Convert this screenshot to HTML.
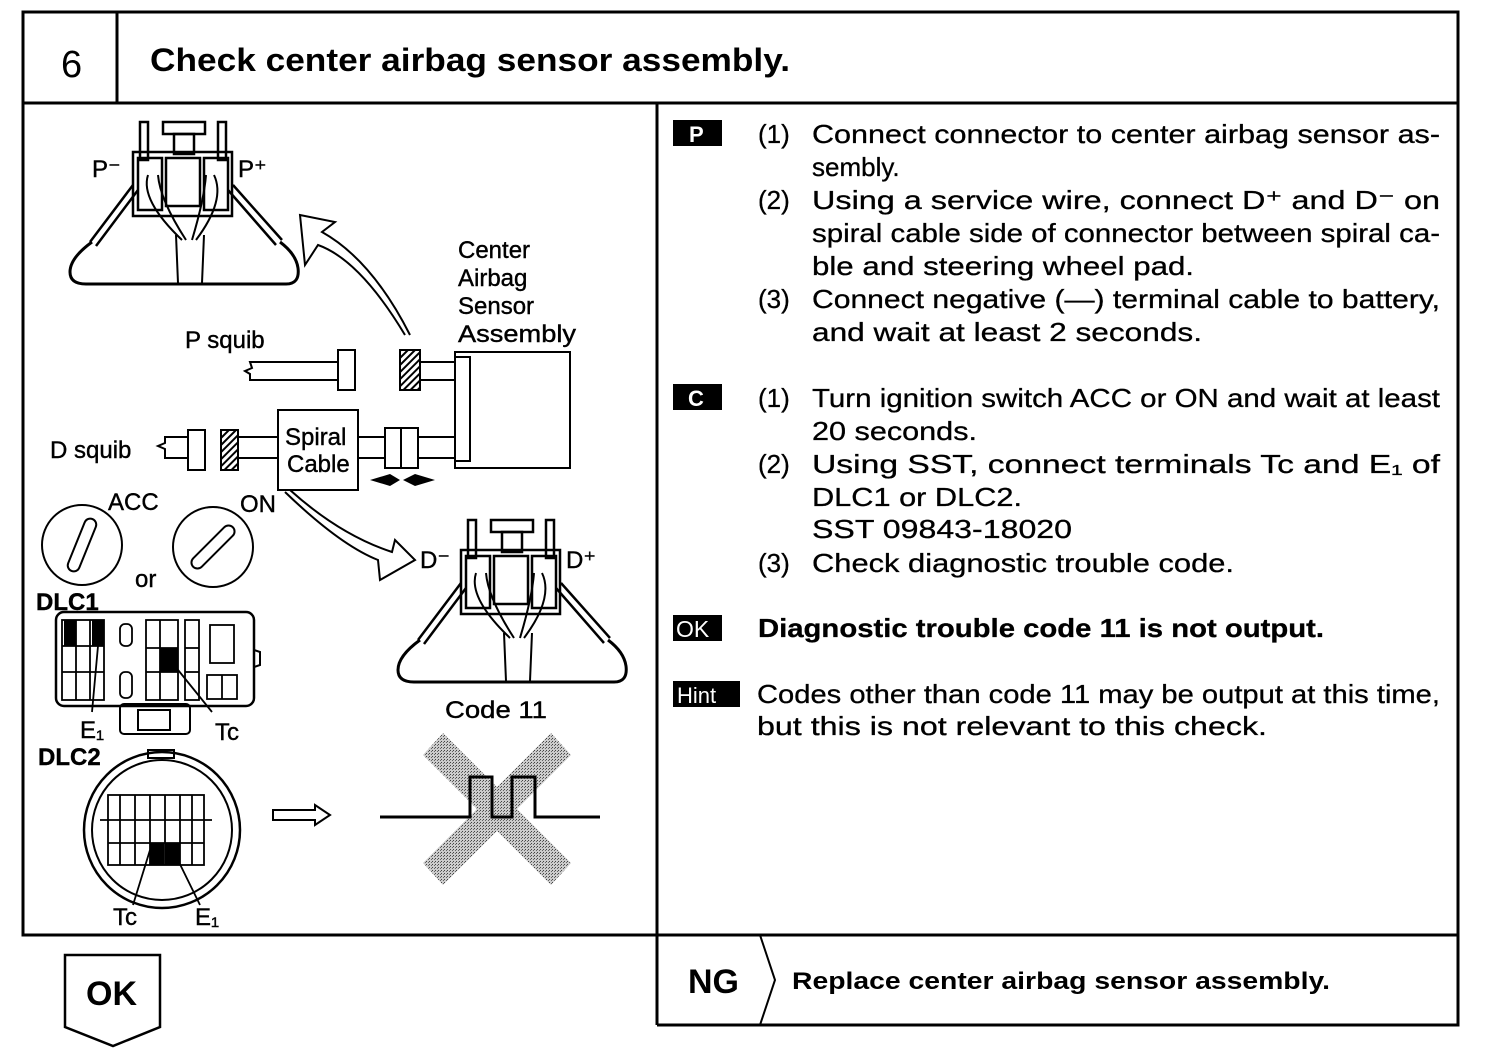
<!DOCTYPE html>
<html><head><meta charset="utf-8"><style>
html,body{margin:0;padding:0;background:#fff}
svg{display:block}
text{font-family:"Liberation Sans",sans-serif;fill:#000}
.t{font-size:26px;stroke:#000;stroke-width:0.3}
.b{font-weight:bold}
.s{font-size:24px;stroke:#000;stroke-width:0.4}
</style></head><body>
<svg width="1504" height="1056" viewBox="0 0 1504 1056" xmlns="http://www.w3.org/2000/svg">
<defs>
<pattern id="h" width="5" height="5" patternUnits="userSpaceOnUse" patternTransform="rotate(45)">
<rect width="5" height="5" fill="#fff"/><rect width="2" height="5" fill="#000"/></pattern>
<pattern id="g" width="3" height="3" patternUnits="userSpaceOnUse">
<rect width="3" height="3" fill="#ccc"/><rect width="1" height="1" fill="#444"/><rect x="2" y="1" width="1" height="1" fill="#666"/></pattern>
<g id="conn" fill="none" stroke="#000" stroke-width="2.5">
<rect x="140" y="122" width="8" height="38"/><rect x="218" y="122" width="8" height="38"/>
<rect x="163" y="122" width="42" height="12"/><rect x="174" y="134" width="20" height="20"/>
<rect x="133" y="152" width="99" height="64"/>
<rect x="138" y="158" width="24" height="52"/><rect x="166" y="158" width="34" height="48"/><rect x="204" y="158" width="24" height="52"/>
<path d="M148 175 Q140 200 182 240 M158 175 Q160 200 186 240 M214 175 Q226 200 196 240 M206 175 Q204 200 192 240" stroke-width="2"/>
<path d="M176 235 L178 283 M204 235 L202 283" stroke-width="2"/>
<path d="M133 185 L90 242 M138 190 L96 246 M233 185 L282 240 M228 190 L276 245" stroke-width="2.5"/>
<path d="M92 242 Q70 258 70 272 Q70 284 86 284 L286 284 Q300 284 298 268 Q296 254 280 242" stroke-width="3"/>
</g>
</defs>

<g fill="none" stroke="#000" stroke-width="3">
<rect x="23" y="12" width="1435" height="923"/>
<line x1="23" y1="103" x2="1458" y2="103"/>
<line x1="117" y1="12" x2="117" y2="103"/>
<line x1="657" y1="103" x2="657" y2="1025"/>
<polyline points="657,1025 1458,1025 1458,935"/>
<polyline points="760,935 775,980 760,1025" stroke-width="2"/>
<path d="M65 955 L160 955 L160 1027 L113 1046 L65 1027 Z" stroke-width="2.5"/>
</g>
<text x="61" y="77" style="font-size:38px">6</text>
<text x="150" y="71" class="b" style="font-size:32px" textLength="640" lengthAdjust="spacingAndGlyphs">Check center airbag sensor assembly.</text>
<text x="86" y="1005" class="b" style="font-size:34px">OK</text>
<text x="688" y="993" class="b" style="font-size:34px">NG</text>
<text x="792" y="989" class="b" style="font-size:24px" textLength="538" lengthAdjust="spacingAndGlyphs">Replace center airbag sensor assembly.</text>

<rect x="673" y="120" width="49" height="26" fill="#000"/><text x="689" y="142" class="b" style="font-size:22px;fill:#fff">P</text>
<text class="t" x="758" y="143">(1)</text>
<text class="t" x="812" y="143" textLength="628" lengthAdjust="spacingAndGlyphs">Connect connector to center airbag sensor as-</text>
<text class="t" x="812" y="176">sembly.</text>
<text class="t" x="758" y="209">(2)</text>
<text class="t" x="812" y="209" textLength="628" lengthAdjust="spacingAndGlyphs">Using a service wire, connect D⁺ and D⁻ on</text>
<text class="t" x="812" y="242" textLength="628" lengthAdjust="spacingAndGlyphs">spiral cable side of connector between spiral ca-</text>
<text class="t" x="812" y="275" textLength="382" lengthAdjust="spacingAndGlyphs">ble and steering wheel pad.</text>
<text class="t" x="758" y="308">(3)</text>
<text class="t" x="812" y="308" textLength="628" lengthAdjust="spacingAndGlyphs">Connect negative (—) terminal cable to battery,</text>
<text class="t" x="812" y="341" textLength="390" lengthAdjust="spacingAndGlyphs">and wait at least 2 seconds.</text>

<rect x="673" y="384" width="49" height="26" fill="#000"/><text x="688" y="406" class="b" style="font-size:22px;fill:#fff">C</text>
<text class="t" x="758" y="407">(1)</text>
<text class="t" x="812" y="407" textLength="628" lengthAdjust="spacingAndGlyphs">Turn ignition switch ACC or ON and wait at least</text>
<text class="t" x="812" y="440" textLength="165" lengthAdjust="spacingAndGlyphs">20 seconds.</text>
<text class="t" x="758" y="473">(2)</text>
<text class="t" x="812" y="473" textLength="628" lengthAdjust="spacingAndGlyphs">Using SST, connect terminals Tc and E₁ of</text>
<text class="t" x="812" y="506" textLength="210" lengthAdjust="spacingAndGlyphs">DLC1 or DLC2.</text>
<text class="t" x="812" y="538" textLength="260" lengthAdjust="spacingAndGlyphs">SST 09843-18020</text>
<text class="t" x="758" y="572">(3)</text>
<text class="t" x="812" y="572" textLength="422" lengthAdjust="spacingAndGlyphs">Check diagnostic trouble code.</text>

<rect x="673" y="615" width="49" height="26" fill="#000"/><text x="676" y="637" style="font-size:23px;fill:#fff">OK</text>
<text class="t b" x="758" y="637" textLength="566" lengthAdjust="spacingAndGlyphs">Diagnostic trouble code 11 is not output.</text>
<rect x="673" y="681" width="67" height="26" fill="#000"/><text x="677" y="703" style="font-size:22px;fill:#fff">Hint</text>
<text class="t" x="757" y="703" textLength="683" lengthAdjust="spacingAndGlyphs">Codes other than code 11 may be output at this time,</text>
<text class="t" x="757" y="735" textLength="510" lengthAdjust="spacingAndGlyphs">but this is not relevant to this check.</text>

<use href="#conn"/>
<use href="#conn" transform="translate(328,398)"/>
<text class="s" x="92" y="177">P⁻</text><text class="s" x="238" y="177">P⁺</text>
<text class="s" x="420" y="568">D⁻</text><text class="s" x="566" y="568">D⁺</text>

<g fill="none" stroke="#000" stroke-width="2">
<path d="M405 335 Q360 260 318 245 L305 265 L300 215 L335 222 L322 232 Q372 260 410 335"/>
<path d="M285 492 Q340 545 378 560 L380 580 L415 560 L395 540 L392 552 Q340 535 290 490"/>
<path d="M338 362 L250 362 L252 368 L245 371 L250 374 L250 380 L338 380"/>
<rect x="338" y="350" width="17" height="40" fill="#fff"/>
<rect x="400" y="350" width="20" height="40" fill="url(#h)"/>
<path d="M420 362 L455 362 M420 380 L455 380"/>
<rect x="455" y="352" width="115" height="116"/>
<rect x="455" y="357" width="15" height="104"/>
<path d="M188 437 L165 437 L165 443 L158 446 L165 449 L165 458 L188 458"/>
<rect x="188" y="430" width="17" height="40" fill="#fff"/>
<rect x="221" y="430" width="17" height="40" fill="url(#h)"/>
<path d="M238 437 L278 437 M238 458 L278 458"/>
<rect x="278" y="410" width="80" height="80"/>
<path d="M358 437 L385 437 M358 458 L385 458 M418 437 L455 437 M418 458 L455 458"/>
<rect x="385" y="428" width="33" height="40"/><line x1="401" y1="428" x2="401" y2="468"/>
<circle cx="82" cy="545" r="40"/><rect x="-6" y="-28" width="12" height="56" rx="6" transform="translate(82,545) rotate(22)"/>
<circle cx="213" cy="547" r="40"/><rect x="-6" y="-28" width="12" height="56" rx="6" transform="translate(213,547) rotate(45)"/>
<rect x="56" y="612" width="198" height="94" rx="8" stroke-width="2.5"/>
<path d="M254 650 L260 652 L260 665 L254 667"/>
<rect x="120" y="704" width="70" height="30" rx="4"/>
<rect x="138" y="710" width="32" height="20"/>
<g stroke-width="1.8">
<rect x="62" y="620" width="42" height="80"/><line x1="76" y1="620" x2="76" y2="700"/><line x1="90" y1="620" x2="90" y2="700"/>
<line x1="62" y1="646" x2="104" y2="646"/><line x1="62" y1="672" x2="104" y2="672"/>
<rect x="120" y="624" width="12" height="22" rx="5"/><rect x="120" y="672" width="12" height="26" rx="5"/>
<rect x="146" y="620" width="32" height="80"/><line x1="160" y1="620" x2="160" y2="700"/>
<line x1="146" y1="648" x2="178" y2="648"/><line x1="146" y1="672" x2="178" y2="672"/>
<rect x="185" y="620" width="14" height="80"/><line x1="185" y1="648" x2="199" y2="648"/><line x1="185" y1="672" x2="199" y2="672"/>
<rect x="210" y="625" width="24" height="38"/><rect x="207" y="675" width="30" height="24"/><line x1="222" y1="675" x2="222" y2="699"/>
<path d="M98 646 L92 712 M170 660 L212 712"/>
</g>
<circle cx="162" cy="830" r="78" stroke-width="2.5"/><circle cx="162" cy="830" r="70"/>
<rect x="148" y="750" width="26" height="8"/>
<g stroke-width="1.8">
<rect x="108" y="795" width="96" height="70"/>
<path d="M100 820 L212 820 M108 843 L204 843 M120 795 L120 865 M135 795 L135 865 M150 795 L150 865 M165 795 L165 865 M180 795 L180 865 M192 795 L192 865"/>
<path d="M150 850 L133 905 M173 850 L200 905"/>
</g>
<path d="M273 810 L315 810 L315 805 L330 815 L315 825 L315 820 L273 820 Z"/>
</g>
<rect x="64" y="620" width="12" height="26" fill="#000"/><rect x="92" y="620" width="12" height="26" fill="#000"/>
<rect x="160" y="648" width="18" height="24" fill="#000"/>
<rect x="150" y="843" width="14" height="22" fill="#000"/><rect x="165" y="843" width="15" height="22" fill="#000"/>
<path d="M370 480 L390 474 L400 480 L390 486 Z M435 480 L415 474 L403 480 L415 486 Z" fill="#000"/>
<path d="M423 755 L443 733 L497 787 L551 733 L571 755 L517 809 L571 863 L551 885 L497 831 L443 885 L423 863 L477 809 Z" fill="url(#g)"/>
<path d="M380 817 L470 817 L470 777 L492 777 L492 817 L512 817 L512 777 L535 777 L535 817 L600 817" fill="none" stroke="#000" stroke-width="3"/>

<text class="s" x="458" y="258">Center</text>
<text class="s" x="458" y="286">Airbag</text>
<text class="s" x="458" y="314">Sensor</text>
<text class="s" x="458" y="342" textLength="118" lengthAdjust="spacingAndGlyphs">Assembly</text>
<text class="s" x="185" y="348">P squib</text>
<text class="s" x="50" y="458">D squib</text>
<text class="s" x="285" y="445">Spiral</text>
<text class="s" x="287" y="472">Cable</text>
<text class="s" x="108" y="510">ACC</text>
<text class="s" x="240" y="512">ON</text>
<text class="s" x="135" y="587">or</text>
<text class="s b" x="36" y="610">DLC1</text>
<text class="s" x="80" y="738">E₁</text>
<text class="s" x="215" y="740">Tc</text>
<text class="s b" x="38" y="765">DLC2</text>
<text class="s" x="113" y="925">Tc</text>
<text class="s" x="195" y="925">E₁</text>
<text class="s" x="445" y="718" textLength="102" lengthAdjust="spacingAndGlyphs">Code 11</text>
</svg>
</body></html>
